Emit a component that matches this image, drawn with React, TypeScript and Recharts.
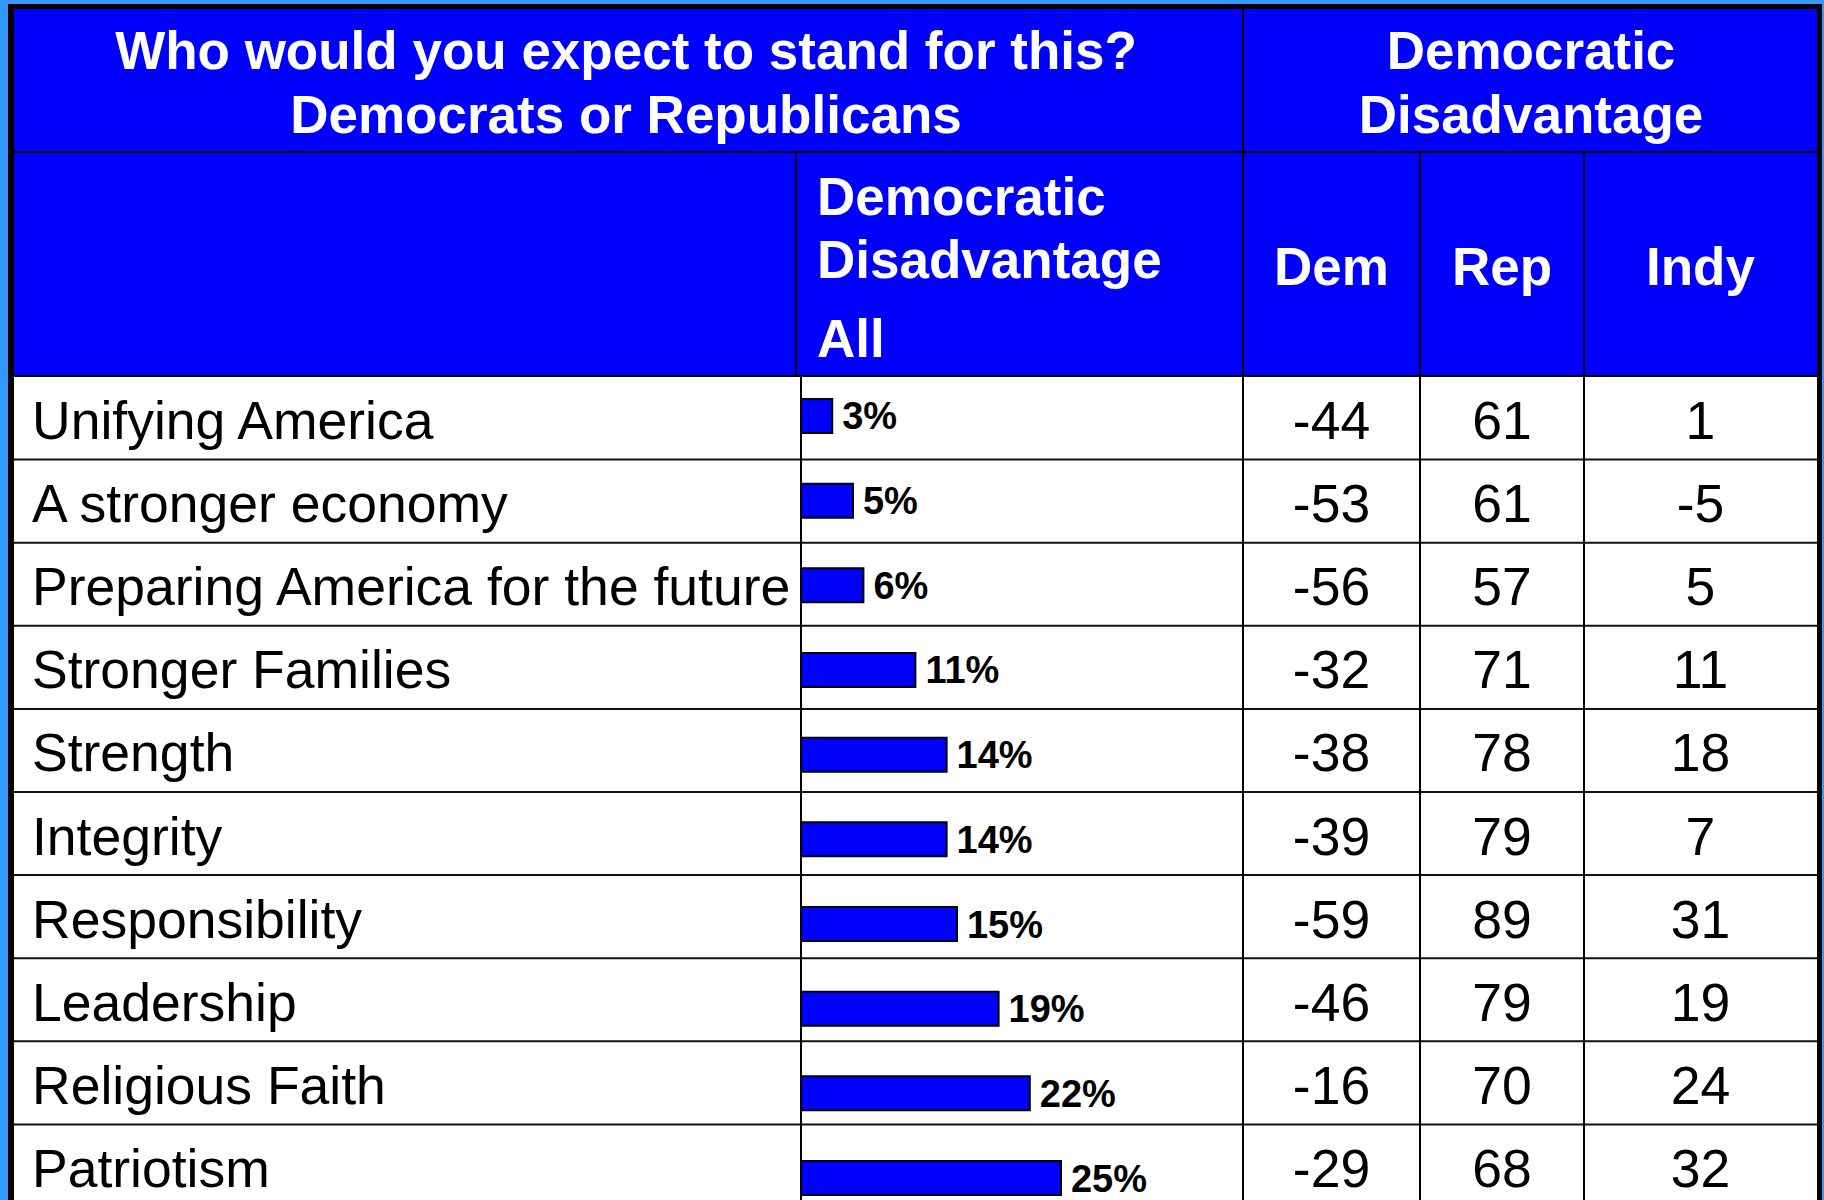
import React from 'react';
import { BarChart, Bar, XAxis, YAxis, LabelList } from 'recharts';

const categories = [
  'Unifying America',
  'A stronger economy',
  'Preparing America for the future',
  'Stronger Families',
  'Strength',
  'Integrity',
  'Responsibility',
  'Leadership',
  'Religious Faith',
  'Patriotism',
];
const allValues = [3, 5, 6, 11, 14, 14, 15, 19, 22, 25];
const demValues = [-44, -53, -56, -32, -38, -39, -59, -46, -16, -29];
const repValues = [61, 61, 57, 71, 78, 79, 89, 79, 70, 68];
const indyValues = [1, -5, 5, 11, 18, 7, 31, 19, 24, 32];

const headerLeft = ['Who would you expect to stand for this?', 'Democrats or Republicans'];
const headerRight = ['Democratic', 'Disadvantage'];
const allHeader = ['Democratic', 'Disadvantage', 'All'];
const groupHeaders = ['Dem', 'Rep', 'Indy'];

const FONT = '"Liberation Sans", Arial, Helvetica, sans-serif';
const BLUE = '#0000ff';

// table geometry
const colX = [14, 801, 1243, 1420, 1584, 1817];
const bodyTop = 376.5;
const rowH = 83.1;

const chartData = categories.map((name, i) => ({ name, all: allValues[i] }));

export default function App() {
  const numCols = [demValues, repValues, indyValues];
  return (
    <div
      style={{
        position: 'absolute',
        left: 0,
        top: 0,
        width: 1824,
        height: 1200,
        overflow: 'hidden',
        background: '#3399ff',
        fontFamily: FONT,
      }}
    >
      <svg width={1824} height={1200} style={{ position: 'absolute', left: 0, top: 0 }}>
        {/* frame */}
        <rect x={8} y={4} width={1814} height={1300} fill="#000" />
        <rect x={14} y={9} width={1803} height={1300} fill="#fff" />
        <rect x={14} y={9} width={1803} height={367} fill={BLUE} />

        {/* header lines */}
        <line x1={14} x2={1817} y1={152} y2={152} stroke="#000" strokeWidth={2} />
        <line x1={14} x2={1817} y1={376} y2={376} stroke="#000" strokeWidth={2} />
        <line x1={1243} x2={1243} y1={9} y2={376} stroke="#000" strokeWidth={2} />
        <line x1={796} x2={796} y1={152} y2={376} stroke="#000" strokeWidth={2} />
        <line x1={1420} x2={1420} y1={152} y2={376} stroke="#000" strokeWidth={2} />
        <line x1={1584} x2={1584} y1={152} y2={376} stroke="#000" strokeWidth={2} />

        {/* body lines */}
        {categories.map((_, i) =>
          i === 0 ? null : (
            <line
              key={'r' + i}
              x1={14}
              x2={1817}
              y1={bodyTop + rowH * i}
              y2={bodyTop + rowH * i}
              stroke="#111"
              strokeWidth={2}
            />
          )
        )}
        {[801, 1243, 1420, 1584].map((x) => (
          <line key={'c' + x} x1={x} x2={x} y1={376} y2={1200} stroke="#000" strokeWidth={2} />
        ))}

        {/* header text */}
        <g fill="#fff" fontWeight="bold" fontSize={53} fontFamily={FONT}>
          {headerLeft.map((t, i) => (
            <text key={t} x={626} y={69 + i * 64} textAnchor="middle">
              {t}
            </text>
          ))}
          {headerRight.map((t, i) => (
            <text key={t} x={1531} y={69 + i * 64} textAnchor="middle">
              {t}
            </text>
          ))}
          {allHeader.map((t, i) => (
            <text key={t} x={817} y={[215, 278, 357][i]}>
              {t}
            </text>
          ))}
          {groupHeaders.map((t, i) => (
            <text key={t} x={(colX[i + 2] + colX[i + 3]) / 2} y={285} textAnchor="middle">
              {t}
            </text>
          ))}
        </g>

        {/* body text */}
        <g fill="#000" fontSize={53.5} fontFamily={FONT}>
          {categories.map((c, i) => (
            <text key={c} x={32} y={bodyTop + rowH * i + 62.5}>
              {c}
            </text>
          ))}
          {numCols.map((vals, j) =>
            vals.map((v, i) => (
              <text
                key={j + '-' + i}
                x={(colX[j + 2] + colX[j + 3]) / 2}
                y={bodyTop + rowH * i + 62.5}
                textAnchor="middle"
              >
                {v}
              </text>
            ))
          )}
        </g>
      </svg>

      {/* the "All" bar column */}
      <div style={{ position: 'absolute', left: 801, top: 374.2 }}>
        <BarChart
          width={416}
          height={846.7}
          data={chartData}
          layout="vertical"
          margin={{ top: 0, right: 0, bottom: 0, left: 0 }}
        >
          <XAxis type="number" domain={[0, 40]} hide />
          <YAxis type="category" dataKey="name" hide />
          <Bar dataKey="all" fill={BLUE} stroke="#000" strokeWidth={2} barSize={34} isAnimationActive={false}>
            <LabelList
              dataKey="all"
              position="right"
              offset={10}
              formatter={(v: any) => `${v}%`}
              fill="#000"
              fontSize={38}
              fontWeight="bold"
              fontFamily={FONT}
            />
          </Bar>
        </BarChart>
      </div>
    </div>
  );
}
